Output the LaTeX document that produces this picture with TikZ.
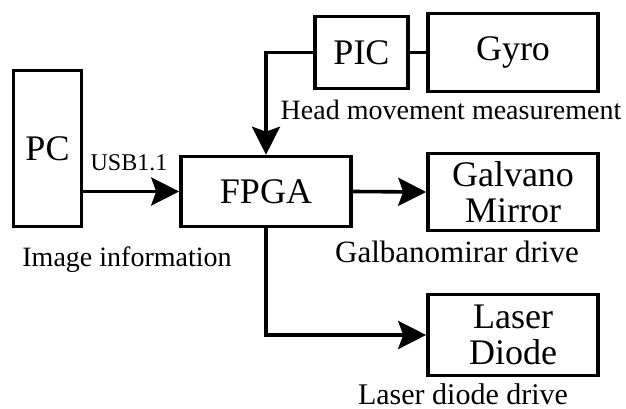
\documentclass[tikz,border=0pt]{standalone}
\usepackage{fontspec}
\setmainfont{Liberation Serif}
\usetikzlibrary{arrows.meta}
\begin{document}
\begin{tikzpicture}[x=1pt,y=-1pt,
		blk/.style={draw,line width=3.6pt,align=center,inner sep=0pt,
			font=\fontsize{36}{36}\selectfont},
		lbl/.style={font=\fontsize{28}{30}\selectfont,inner sep=0pt},
		arr/.style={line width=3.6pt,-{Stealth[length=28pt,width=28pt,inset=5pt]}}]
	\useasboundingbox (0,0) rectangle (626,409);
	% blocks
	\node[blk,minimum width=68pt,minimum height=156pt] (pc) at (47.5,148.5) {PC};
	\node[blk,minimum width=170pt,minimum height=70pt] (fpga) at (266,191.5) {FPGA};
	\node[blk,minimum width=93pt,minimum height=72pt] (pic) at (361.5,52.5) {PIC};
	\node[blk,minimum width=170pt,minimum height=78pt] (gyro) at (513,52.5) {Gyro};
	\node[blk,minimum width=170pt,minimum height=77pt] (galvano) at (513,192) {Galvano\\Mirror};
	\node[blk,minimum width=170pt,minimum height=81pt] (laser) at (513,335) {Laser\\Diode};
	% labels
	\node[lbl,font=\fontsize{24}{26}\selectfont] (usb) at (129,163) {USB1.1};
	\node[lbl] (head) at (451,110) {Head movement measurement};
	\node[lbl] (image) at (127,260) {Image information};
	\node[lbl,font=\fontsize{31}{32}\selectfont,anchor=base] (galdrive) at (457,262) {Galbanomirar drive};
	\node[lbl,font=\fontsize{30}{32}\selectfont,anchor=base] (laserdrive) at (463,404) {Laser diode drive};
	% connectors
	\draw[arr] (pc.east |- fpga.west) -- (fpga.west);
	\draw[arr] (pic.west) -| (fpga.north);
	\draw[line width=3.6pt] (pic) -- (gyro);
	\draw[arr] (fpga.east) -- (galvano.west);
	\draw[arr] (fpga.south) |- (laser.west);
\end{tikzpicture}
\end{document}
